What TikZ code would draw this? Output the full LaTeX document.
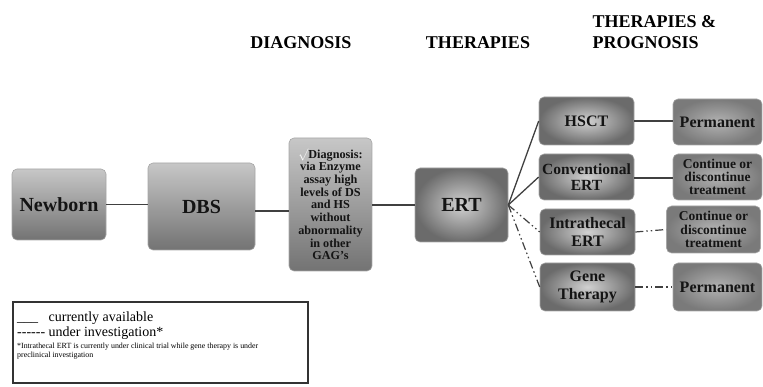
\documentclass[tikz,border=0pt]{standalone}
\usepackage{fontspec}
\setmainfont{Liberation Serif}
\usepackage{amssymb}
\begin{document}
\begin{tikzpicture}[x=1pt,y=-1pt,
  box/.style={rounded corners=5pt, draw=black!35, line width=0.6pt, align=center,
    font=\bfseries, text=black!92, inner sep=1pt},
  leftbox/.style={box, top color=black!22, bottom color=black!55},
  midbox/.style={box, inner color=black!18, outer color=black!58},
  rightbox/.style={box, inner color=black!30, outer color=black!52},
  solidc/.style={draw=black!75, line width=1.3pt},
  dashc/.style={draw=black!75, line width=1.2pt,
    dash pattern=on 8pt off 3pt on 1.5pt off 3pt on 1.5pt off 3pt},
  head/.style={font=\fontsize{18}{21}\selectfont\bfseries, align=left}
]
\useasboundingbox (0,0) rectangle (763,387);

% headers
\node[head] (h1) at (301,43) {DIAGNOSIS};
\node[head] (h2) at (478,43) {THERAPIES};
\node[head, anchor=west] (h3) at (589,32.5) {THERAPIES \&\\PROGNOSIS};

% main chain
\node[leftbox, minimum width=94pt, minimum height=71pt, font=\fontsize{20}{22}\selectfont\bfseries] (newborn) at (59,204.5) {Newborn};
\node[leftbox, minimum width=107pt, minimum height=87pt, font=\fontsize{20}{22}\selectfont\bfseries] (dbs) at (201.5,206.5) {DBS};
\node[leftbox, minimum width=83pt, minimum height=133pt, font=\fontsize{12.2}{12.7}\selectfont\bfseries] (diag) at (330.5,204.5)
  {\textcolor{white}{$\surd$}Diagnosis:\\via Enzyme\\assay high\\levels of DS\\and HS\\without\\abnormality\\in other\\GAG's};
\node[midbox, minimum width=93pt, minimum height=74pt, font=\fontsize{20}{22}\selectfont\bfseries] (ert) at (461.5,205) {ERT};

% therapies
\node[midbox, minimum width=95pt, minimum height=48pt, font=\fontsize{16}{17}\selectfont\bfseries] (hsct) at (586.5,121) {HSCT};
\node[midbox, minimum width=95pt, minimum height=46pt, font=\fontsize{15.5}{15.5}\selectfont\bfseries] (conv) at (586.5,177) {Conventional\\ERT};
\node[midbox, minimum width=95pt, minimum height=46pt, font=\fontsize{16}{17.5}\selectfont\bfseries] (intra) at (587.5,232) {Intrathecal\\ERT};
\node[midbox, minimum width=95pt, minimum height=48pt, font=\fontsize{16}{17.5}\selectfont\bfseries] (gene) at (587.5,287) {Gene\\Therapy};

% prognosis
\node[rightbox, minimum width=89pt, minimum height=46pt, font=\fontsize{16}{17}\selectfont\bfseries] (perm1) at (717.5,122) {Permanent};
\node[rightbox, minimum width=89pt, minimum height=46pt, font=\fontsize{13.5}{13.3}\selectfont\bfseries] (cont1) at (717.5,177) {Continue or\\discontinue\\treatment};
\node[rightbox, minimum width=94pt, minimum height=47pt, font=\fontsize{13.5}{13.3}\selectfont\bfseries] (cont2) at (713.5,229.5) {Continue or\\discontinue\\treatment};
\node[rightbox, minimum width=89pt, minimum height=48pt, font=\fontsize{16}{17}\selectfont\bfseries] (perm2) at (717.5,287) {Permanent};

% helper coordinates
\coordinate (dbsout) at ([yshift=-4.5pt]dbs.east);
\coordinate (convout) at ([yshift=-1pt]conv.east);

% connectors
\draw[solidc] (newborn.east) -- (dbs.west |- newborn.east);
\draw[solidc] (dbsout) -- (diag.west |- dbsout);
\draw[solidc] (diag.east |- ert.west) -- (ert.west);
\draw[solidc] (ert.east) -- (hsct.west);
\draw[solidc] (ert.east) -- (conv.west);
\draw[dashc] (ert.east) -- (intra.west);
\draw[dashc] (ert.east) -- (gene.west);
\draw[solidc] (hsct.east) -- (perm1.west |- hsct.east);
\draw[solidc] (convout) -- (cont1.west |- convout);
\draw[dashc] (intra.east) -- (cont2.west);
\draw[dashc] (gene.east) -- (perm2.west);

% legend
\node[draw=black!80, line width=1.2pt, minimum width=295pt, minimum height=81pt] (legend) at (160.5,342.5) {};
\node[anchor=west, font=\fontsize{14}{15}\selectfont, inner sep=0pt] (l1) at (17,318) {\_\_\_\ \ \ currently available};
\node[anchor=west, font=\fontsize{14}{15}\selectfont, inner sep=0pt] (l2) at (17,333) {-{}-{}-{}-{}-{}- under investigation*};
\node[anchor=north west, font=\fontsize{7.9}{9}\selectfont, inner sep=0pt, align=left] (l3) at (17,343)
  {*Intrathecal ERT is currently under clinical trial while gene therapy is under\\preclinical investigation};
\end{tikzpicture}
\end{document}
